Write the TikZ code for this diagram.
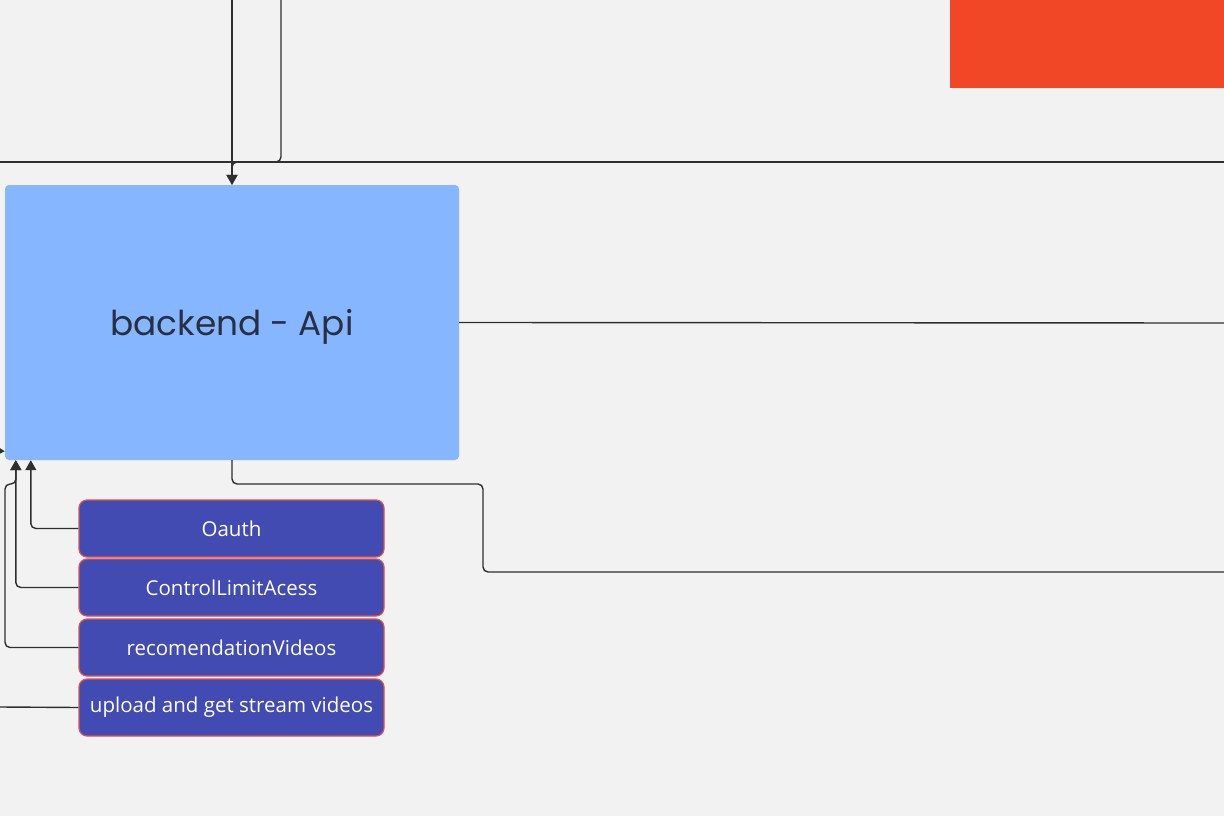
\documentclass[tikz,border=0pt]{standalone}
\usepackage{fontspec}
\setmainfont{Open Sans}
\newfontfamily\popfont{Poppins}
\usetikzlibrary{arrows.meta,calc}
\definecolor{bgc}{HTML}{F2F2F2}
\definecolor{orangec}{HTML}{F24726}
\definecolor{bluec}{HTML}{86B6FF}
\definecolor{indigoc}{HTML}{414BB2}
\definecolor{borderc}{HTML}{E0524A}
\definecolor{linec}{HTML}{2F2F2F}
\definecolor{textc}{HTML}{283040}
\tikzset{
  conn/.style={draw=linec, line width=1.4pt, rounded corners=5pt},
  arr/.style={conn, -{Triangle[length=10pt,width=11pt]}},
  modbox/.style={rectangle, draw=borderc, line width=1.2pt, fill=indigoc, rounded corners=8pt,
    minimum width=305pt, minimum height=57pt, inner sep=0pt, text=white, font=\fontsize{20.5pt}{24pt}\selectfont},
  apibox/.style={rectangle, fill=bluec, rounded corners=4pt, minimum width=454pt, minimum height=275pt,
    inner sep=0pt, text=textc, font=\popfont\fontsize{34.3pt}{40pt}\selectfont},
  block/.style={rectangle, fill=orangec, inner sep=0pt}
}
\begin{document}
\begin{tikzpicture}[x=1pt,y=-1pt]
\useasboundingbox (0,0) rectangle (1224,816);
\fill[bgc] (0,0) rectangle (1224,816);
\node[block, minimum width=274pt, minimum height=88pt] (orange) at (1087,44) {};
\node[apibox] (api) at (232,322.5) {};
\node[text=textc, font=\popfont\fontsize{34.3pt}{40pt}\selectfont, inner sep=0pt] (apilabel) at (232,327) {backend - Api};
\node[modbox] (oauth) at (231.5,528.5) {Oauth};
\node[modbox] (ctrl) at (231.5,587.5) {ControlLimitAcess};
\node[modbox] (rec) at (231.5,647.5) {recomendationVideos};
\node[modbox] (upl) at (231.5,707.5) {upload and get stream videos};
\coordinate (hl) at (0,162);
\coordinate (hr) at (1224,162);
\coordinate (t1) at (232,0);
\coordinate (t2) at (281,0);
\coordinate (r1) at (1224,323);
\coordinate (r2) at (1224,572);
\coordinate (la) at (0,451);
\coordinate (ul) at (0,707);
\draw[conn] (hl) -- (hr);
\draw[arr] (t1) -- (api.north);
\draw[arr] (t2) -- (281,162) -- (232,162) -- (api.north);
\draw[conn] (api.east) -- (r1);
\draw[conn] (api.south) -- (232,484) -- (483,484) -- (483,572) -- (r2);
\draw[arr] (la) -- ([yshift=9pt]api.south west);
\draw[arr] (oauth.west) -| ([xshift=26pt]api.south west);
\draw[arr] (ctrl.west) -| ([xshift=11pt]api.south west);
\draw[arr] (rec.west) -- (5,647.5) -- (5,484) -- (16,484) -- ([xshift=11pt]api.south west);
\draw[conn] (ul) -- (upl.west);
\end{tikzpicture}
\end{document}
